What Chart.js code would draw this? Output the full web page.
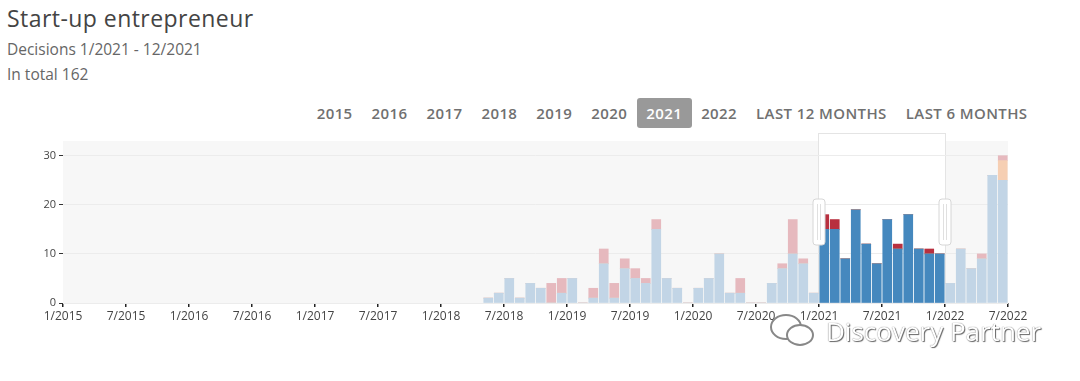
<!DOCTYPE html>
<html lang="en">
<head>
<meta charset="utf-8">
<title>Start-up entrepreneur</title>
<script src="https://cdn.jsdelivr.net/npm/chart.js@4.4.1/dist/chart.umd.min.js"></script>
<style>
  body { margin: 0; width: 1080px; height: 381px; background: #fff; font-family: "Open Sans", sans-serif; position: relative; overflow: hidden; }
  h1 { position: absolute; left: 7px; top: 2px; margin: 0; font-weight: 400; font-size: 23px; letter-spacing: 0.45px; color: #444; }
  .sub { position: absolute; left: 7px; margin: 0; font-size: 15.5px; color: #666; }
  .years { position: absolute; top: 98px; right: 43px; display: flex; }
  .btn { height: 30px; line-height: 30px; padding: 0 9.5px; font-size: 15px; font-weight: 600; letter-spacing: 0.4px; color: #707070; border-radius: 3px; }
  .btn.active { background: #999; color: #fff; }
  #wrap { position: absolute; left: 0; top: 125px; width: 1080px; height: 256px; }
  .mark { position: absolute; left: 768px; top: 313px; display: flex; align-items: center; font-size: 26px; color: #fff; text-shadow: 1px 1px 1px #666, 0 0 1px #555; }
  .mark svg { margin-right: 8px; }
</style>
</head>
<body>

<!-- Titles -->
<h1>Start-up entrepreneur</h1>
<p class="sub" style="top:38px">Decisions 1/2021 - 12/2021</p>
<p class="sub" style="top:63px">In total 162</p>

<!-- Year buttons -->
<div class="years">
  <span class="btn">2015</span><span class="btn">2016</span><span class="btn">2017</span><span class="btn">2018</span>
  <span class="btn">2019</span><span class="btn">2020</span><span class="btn active">2021</span><span class="btn">2022</span>
  <span class="btn">LAST 12 MONTHS</span><span class="btn">LAST 6 MONTHS</span>
</div>

<div id="wrap"><canvas id="chart" width="1080" height="256"></canvas></div>

<div class="mark">
  <svg width="50" height="36" viewBox="0 0 50 36">
    <ellipse cx="18" cy="14" rx="15" ry="12" fill="#fff" stroke="#888" stroke-width="2"/>
    <ellipse cx="32" cy="22" rx="13" ry="10" fill="#fff" stroke="#888" stroke-width="2"/>
  </svg>
  <span>Discovery Partner</span>
</div>

<script>
  const tickLabels = ['1/2015', '7/2015', '1/2016', '7/2016', '1/2017', '7/2017', '1/2018', '7/2018',
    '1/2019', '7/2019', '1/2020', '7/2020', '1/2021', '7/2021', '1/2022', '7/2022'];

  const months = [
    '5/2018', '6/2018', '7/2018', '8/2018', '9/2018', '10/2018', '11/2018', '12/2018',
    '1/2019', '2/2019', '3/2019', '4/2019', '5/2019', '6/2019', '7/2019', '8/2019', '9/2019', '10/2019', '11/2019', '12/2019',
    '1/2020', '2/2020', '3/2020', '4/2020', '5/2020', '6/2020', '7/2020', '8/2020', '9/2020', '10/2020', '11/2020', '12/2020',
    '1/2021', '2/2021', '3/2021', '4/2021', '5/2021', '6/2021', '7/2021', '8/2021', '9/2021', '10/2021', '11/2021', '12/2021',
    '1/2022', '2/2022', '3/2022', '4/2022', '5/2022', '6/2022'
  ];
  const positive = [1, 2, 5, 1, 4, 3, 0, 2,
    5, 0, 1, 8, 1, 7, 5, 4, 15, 5, 3, 0,
    3, 5, 10, 2, 2, 0, 0, 4, 7, 10, 8, 2,
    15, 15, 9, 19, 12, 8, 17, 11, 18, 11, 10, 10,
    4, 11, 7, 9, 26, 25];
  const other = [0, 0, 0, 0, 0, 0, 0, 0,
    0, 0, 0, 0, 0, 0, 0, 0, 0, 0, 0, 0,
    0, 0, 0, 0, 0, 0, 0, 0, 0, 0, 0, 0,
    0, 0, 0, 0, 0, 0, 0, 0, 0, 0, 0, 0,
    0, 0, 0, 0, 0, 4];
  const negative = [0, 0, 0, 0, 0, 0, 4, 3,
    0, 0, 2, 3, 3, 2, 2, 1, 2, 0, 0, 0,
    0, 0, 0, 0, 3, 0, 0, 0, 1, 7, 1, 0,
    3, 2, 0, 0, 0, 0, 0, 1, 0, 0, 1, 0,
    0, 0, 0, 1, 0, 1];
  const selectedFrom = '1/2021';
  const selectedTo = '12/2021';

  // months since 1/2015
  function monthIndex(s) {
    const [m, y] = s.split('/').map(Number);
    return (y - 2015) * 12 + m - 1;
  }
  const selStart = monthIndex(selectedFrom);
  const selEnd = monthIndex(selectedTo) + 1;
  const inSel = v => v >= selStart && v < selEnd;

  function series(values, light, dark) {
    return {
      data: months.map((m, i) => ({ x: monthIndex(m) + 0.5, y: values[i] })),
      backgroundColor: c => (c.raw && inSel(c.raw.x) ? dark : light),
      barThickness: 9,
      borderWidth: 0
    };
  }

  function roundRect(ctx, x, y, w, h, r) {
    ctx.beginPath();
    ctx.moveTo(x + r, y);
    ctx.arcTo(x + w, y, x + w, y + h, r);
    ctx.arcTo(x + w, y + h, x, y + h, r);
    ctx.arcTo(x, y + h, x, y, r);
    ctx.arcTo(x, y, x + w, y, r);
    ctx.closePath();
  }

  const selection = {
    id: 'selection',
    beforeDraw(chart) {
      const { ctx, chartArea: a, scales: { x } } = chart;
      const x0 = x.getPixelForValue(selStart), x1 = x.getPixelForValue(selEnd);
      ctx.save();
      ctx.fillStyle = '#f7f7f7';
      ctx.fillRect(a.left, a.top, a.right - a.left, a.bottom - a.top);
      ctx.fillStyle = '#fff';
      ctx.fillRect(x0, a.top - 8, x1 - x0, a.bottom - a.top + 8);
      ctx.strokeStyle = '#e4e4e4';
      ctx.lineWidth = 1;
      ctx.strokeRect(x0 - 0.5, a.top - 7.5, x1 - x0 + 1, a.bottom - a.top + 7.5);
      ctx.restore();
    },
    afterDatasetsDraw(chart) {
      const { ctx, chartArea: a, scales: { x } } = chart;
      const mid = (a.top + a.bottom) / 2;
      ctx.save();
      [selStart, selEnd].forEach(v => {
        const px = Math.round(x.getPixelForValue(v));
        roundRect(ctx, px - 6, mid - 23, 12, 46, 3);
        ctx.fillStyle = '#fff';
        ctx.fill();
        ctx.strokeStyle = '#d6d6d6';
        ctx.stroke();
        ctx.beginPath();
        ctx.moveTo(px - 1.5, mid - 18); ctx.lineTo(px - 1.5, mid + 18);
        ctx.moveTo(px + 1.5, mid - 18); ctx.lineTo(px + 1.5, mid + 18);
        ctx.strokeStyle = '#e0e0e0';
        ctx.stroke();
      });
      ctx.restore();
    }
  };

  new Chart(document.getElementById('chart'), {
    type: 'bar',
    data: {
      datasets: [
        series(positive, '#c2d5e6', '#4588be'),
        series(other, '#f6cfb3', '#e89a66'),
        series(negative, '#e6b9be', '#b8303f')
      ]
    },
    options: {
      responsive: false,
      animation: false,
      layout: { padding: { top: 16, right: 72, bottom: 48, left: 0 } },
      plugins: { legend: { display: false }, tooltip: { enabled: false } },
      scales: {
        x: {
          type: 'linear',
          stacked: true,
          offset: false,
          min: 0,
          max: 90,
          afterFit: s => { s.height = 30; },
          afterBuildTicks: s => { s.ticks = tickLabels.map((t, i) => ({ value: i * 6 })); },
          border: { display: false },
          grid: { offset: false, drawOnChartArea: false, drawTicks: true, tickLength: 4, tickColor: '#222', lineWidth: 1.5 },
          ticks: {
            autoSkip: false, maxRotation: 0, padding: 2,
            color: '#444', font: { family: 'Open Sans', size: 12 },
            callback: v => tickLabels[v / 6]
          }
        },
        y: {
          stacked: true,
          min: 0,
          max: 33,
          afterFit: s => { s.width = 63; },
          afterBuildTicks: s => { s.ticks = [0, 10, 20, 30].map(v => ({ value: v })); },
          border: { display: false },
          grid: { color: '#ececec', tickLength: 4, tickColor: '#333' },
          ticks: { padding: 3, color: '#444', font: { family: 'Open Sans', size: 11 } }
        }
      }
    },
    plugins: [selection]
  });
</script>
</body>
</html>
